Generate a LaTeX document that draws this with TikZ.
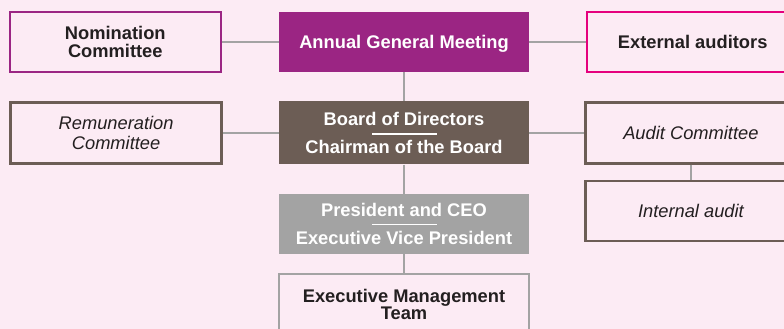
\documentclass[tikz,border=0pt]{standalone}
\usepackage{fontspec}
\setmainfont{Liberation Sans}
\usepackage{xcolor}
\usepackage{tikz}
\usetikzlibrary{positioning,calc}
\definecolor{Plum}{HTML}{9B2583}
\definecolor{Magenta}{HTML}{E5007D}
\definecolor{Taupe}{HTML}{6C5D55}
\definecolor{Stone}{HTML}{A3A3A3}
\definecolor{Ink}{HTML}{231F20}
\definecolor{Blush}{HTML}{FCEBF4}

\begin{document}
\begin{tikzpicture}[x=1pt,y=-1pt,font=\fontsize{18.3}{19}\selectfont,node distance=0pt]
  \tikzstyle{box}=[minimum width=211pt,minimum height=60pt,align=center,inner sep=0pt,text=Ink]
  \tikzstyle{head}=[box,minimum width=250pt,text=white,text depth=0pt,font=\fontsize{18.3}{19}\selectfont\bfseries]
  \tikzstyle{link}=[draw=Stone,line width=1.3pt]
  \tikzstyle{bar}=[draw=white,line width=1.2pt]
  \fill[Blush] (0,0) rectangle (784,329);
  \useasboundingbox (0,0) rectangle (784,329);
  % centre column
  \node[head,fill=Plum] (agm) at (404,42) {Annual General Meeting};
  \node[head,fill=Taupe,minimum height=63pt,below=29pt of agm] (board) {Board of Directors\\[9pt]Chairman of the Board};
  \node[head,fill=Stone,below=29pt of board] (pres) {President and CEO\\[9pt]Executive Vice President};
  \node[box,draw=Stone,line width=2pt,minimum width=250pt,font=\fontsize{18.3}{17}\selectfont\bfseries,below=19pt of pres] (emt) {Executive Management\\Team};
  % side boxes
  \node[box,draw=Plum,line width=2pt,font=\fontsize{18.3}{17.5}\selectfont\bfseries,left=57pt of agm] (nom) {Nomination\\Committee};
  \node[box,draw=Magenta,line width=2pt,font=\fontsize{18.3}{19}\selectfont\bfseries,right=57pt of agm] (ext) {External auditors};
  \node[box,draw=Taupe,line width=2.4pt,minimum height=61pt,font=\fontsize{18.3}{20.5}\selectfont\itshape,left=56pt of board] (rem) {Remuneration\\Committee};
  \node[box,draw=Taupe,line width=2.4pt,minimum height=61pt,font=\fontsize{18.3}{19}\selectfont\itshape,right=55pt of board] (audit) {Audit Committee};
  \node[box,draw=Taupe,line width=2.4pt,font=\fontsize{18.3}{19}\selectfont\itshape,below=15pt of audit] (ia) {Internal audit};
  % separators
  \draw[bar] ($(board.center)+(-32,1)$) -- ($(board.center)+(33,1)$);
  \draw[bar] ($(pres.center)+(-32,1)$) -- ($(pres.center)+(33,1)$);
  % connectors
  \draw[link] (nom) -- (agm);
  \draw[link] (agm) -- (ext);
  \draw[link] (agm) -- (board);
  \draw[link] (board) -- (pres);
  \draw[link] (pres) -- (emt);
  \draw[link] (rem) -- (board);
  \draw[link] (board) -- (audit);
  \draw[link] (audit) -- (ia);
\end{tikzpicture}
\end{document}
